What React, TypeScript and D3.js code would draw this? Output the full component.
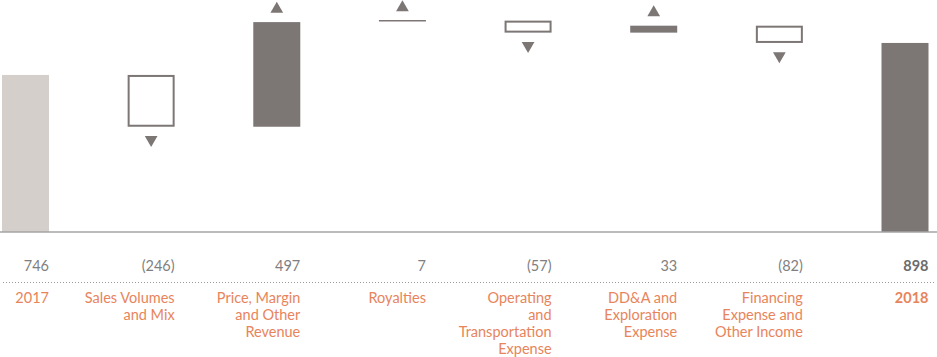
import React from "react";
import * as d3 from "d3";

const categories = ["2017", "Sales Volumes", "Price", "Royalties", "Operating", "DD&A", "Financing", "2018"];
const labelLines = [
  ["2017"],
  ["Sales Volumes", "and Mix"],
  ["Price, Margin", "and Other", "Revenue"],
  ["Royalties"],
  ["Operating", "and", "Transportation", "Expense"],
  ["DD&A and", "Exploration", "Expense"],
  ["Financing", "Expense and", "Other Income"],
  ["2018"],
];
const values = [746, -246, 497, 7, -57, 33, -82, 898];
const valueLabels = ["746", "(246)", "497", "7", "(57)", "33", "(82)", "898"];
const kinds = ["total", "delta", "delta", "delta", "delta", "delta", "delta", "total"];

const W = 937;
const H = 357;
const BASE = 232;
const BAR_W = 47;

export default function App() {
  const x = d3.scalePoint<string>().domain(categories).range([25.5, 905]);
  const y = d3.scaleLinear().domain([0, 1102]).range([BASE, 0]);

  let running = 0;
  const items = values.map((v, i) => {
    let start: number, end: number;
    if (kinds[i] === "total") {
      start = 0;
      end = v;
      running = v;
    } else {
      start = running;
      end = running + v;
      running = end;
    }
    return { cat: categories[i], v, start, end, kind: kinds[i], i };
  });

  const dark = "#7c7675";
  const light = "#d4cfcb";
  const orange = "#e8845c";
  const tri = d3.symbol().type(d3.symbolTriangle).size(70);

  return (
    <svg width={W} height={H} style={{ position: "absolute", left: 0, top: 0 }}>
      <rect width={W} height={H} fill="#fff" />
      {items.map((d) => {
        const cx = x(d.cat)!;
        const x0 = cx - BAR_W / 2;
        const top = y(Math.max(d.start, d.end));
        const bot = y(Math.min(d.start, d.end));
        if (d.kind === "total") {
          return (
            <rect key={d.i} x={x0} y={top} width={BAR_W} height={bot - top} fill={d.i === 0 ? light : dark} />
          );
        }
        const up = d.v > 0;
        const h = bot - top;
        const triY = up ? top - 13 : bot + 13;
        return (
          <g key={d.i}>
            {up ? (
              h < 3 ? (
                <line x1={x0} x2={x0 + BAR_W} y1={top} y2={top} stroke={dark} strokeWidth={1.5} />
              ) : (
                <rect x={x0} y={top} width={BAR_W} height={h} fill={dark} />
              )
            ) : (
              <rect x={x0 + 1} y={top + 1} width={BAR_W - 2} height={h - 2} fill="#fff" stroke={dark} strokeWidth={2} />
            )}
            <path
              d={tri()!}
              fill={dark}
              transform={`translate(${cx},${triY}) rotate(${up ? 0 : 180})`}
            />
          </g>
        );
      })}
      <line x1={0} x2={937} y1={BASE} y2={BASE} stroke="#a5a5a5" strokeWidth={1.5} />
      <line x1={3} x2={935} y1={282.5} y2={282.5} stroke="#9a9a9a" strokeWidth={1} strokeDasharray="1 2" />
      {items.map((d) => {
        const rx = x(d.cat)! + BAR_W / 2;
        const bold = d.i === 7;
        return (
          <g key={"t" + d.i} fontFamily="Lato, 'Open Sans', sans-serif" fontSize={14.5} textAnchor="end">
            <text x={rx} y={270.5} fill={bold ? "#6b6b6b" : "#7f7f7f"} fontWeight={bold ? 700 : 400}>
              {valueLabels[d.i]}
            </text>
            {labelLines[d.i].map((l, j) => (
              <text key={j} x={rx} y={302.5 + j * 17} fill={orange} fontWeight={bold ? 700 : 400}>
                {l}
              </text>
            ))}
          </g>
        );
      })}
    </svg>
  );
}
